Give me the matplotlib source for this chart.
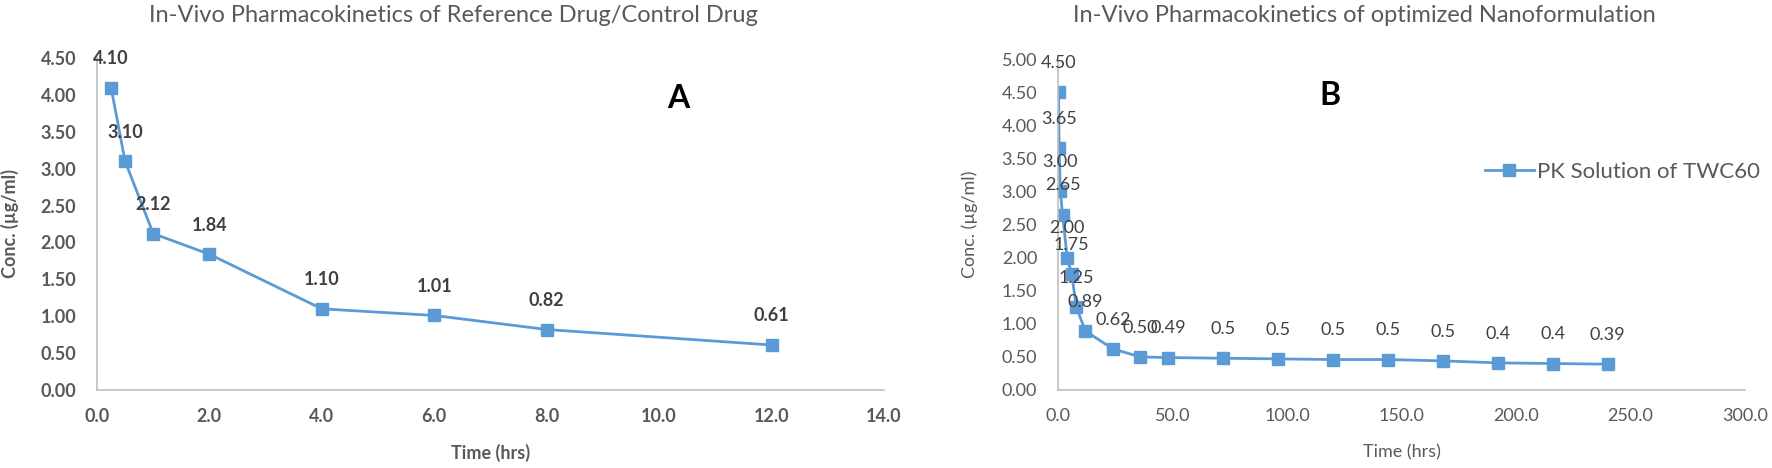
import matplotlib
matplotlib.use("Agg")
import matplotlib.pyplot as plt
from matplotlib import font_manager

fams = {f.name for f in font_manager.fontManager.ttflist}
FONT = [f for f in ["Lato", "DejaVu Sans"] if f in fams]
plt.rcParams['font.family'] = FONT

# Data
time_a = [0.25, 0.5, 1, 2, 4, 6, 8, 12]
conc_a = [4.10, 3.10, 2.12, 1.84, 1.10, 1.01, 0.82, 0.61]
labels_a = ["4.10", "3.10", "2.12", "1.84", "1.10", "1.01", "0.82", "0.61"]

time_b = [0.25, 0.5, 1, 2, 4, 6, 8, 12, 24, 36, 48, 72, 96, 120, 144, 168, 192, 216, 240]
conc_b = [4.50, 3.65, 3.00, 2.65, 2.00, 1.75, 1.25, 0.89, 0.62, 0.50, 0.49, 0.48, 0.47, 0.46, 0.46, 0.44, 0.41, 0.40, 0.39]
labels_b = ["4.50", "3.65", "3.00", "2.65", "2.00", "1.75", "1.25", "0.89", "0.62", "0.50", "0.49",
            "0.5", "0.5", "0.5", "0.5", "0.5", "0.4", "0.4", "0.39"]

xticks_a = [0, 2, 4, 6, 8, 10, 12, 14]
yticks_a = [0, 0.5, 1, 1.5, 2, 2.5, 3, 3.5, 4, 4.5]
xticks_b = [0, 50, 100, 150, 200, 250, 300]
yticks_b = [0, 0.5, 1, 1.5, 2, 2.5, 3, 3.5, 4, 4.5, 5]

BLUE = "#5B9BD5"
TXT = "#595959"
LAB = "#404040"

W, H = 1772, 468
fig = plt.figure(figsize=(W / 100, H / 100), dpi=100)
axA = fig.add_axes([97 / W, 1 - 390 / H, 787 / W, 332 / H])
axB = fig.add_axes([1058 / W, 1 - 390 / H, 687 / W, 331 / H])

def style(ax, bold):
    for s in ["top", "right"]:
        ax.spines[s].set_visible(False)
    for s in ["left", "bottom"]:
        ax.spines[s].set_color("#BFBFBF")
        ax.spines[s].set_linewidth(1.2)
    ax.tick_params(length=0, labelsize=13, colors=TXT)
    ax.tick_params(axis="x", pad=13)
    ax.tick_params(axis="y", pad=15)
    for t in ax.get_xticklabels() + ax.get_yticklabels():
        t.set_fontweight("bold" if bold else "normal")

def pix(x, y):
    return x / W, 1 - y / H

# Panel A
axA.plot(time_a, conc_a, color=BLUE, lw=2, marker="s", ms=8.6)
axA.set_xlim(0, 14)
axA.set_ylim(0, 4.5)
axA.set_xticks(xticks_a)
axA.set_xticklabels([f"{v:.1f}" for v in xticks_a])
axA.set_yticks(yticks_a)
axA.set_yticklabels([f"{v:.2f}" for v in yticks_a])
style(axA, True)
for x, y, s in zip(time_a, conc_a, labels_a):
    axA.annotate(s, (x, y), xytext=(0, 21), textcoords="offset points",
                 ha="center", va="center", fontsize=13, fontweight="bold", color=LAB,
                 annotation_clip=False)
axA.set_xlabel("Time (hrs)", fontsize=13, fontweight="bold", color=TXT)
axA.xaxis.set_label_coords(0.5, -0.163)
axA.set_ylabel("Conc. (µg/ml)", fontsize=13, fontweight="bold", color=TXT)
axA.yaxis.set_label_coords(-0.099, 0.5)
fig.text(*pix(453, 16), "In-Vivo Pharmacokinetics of Reference Drug/Control Drug",
         fontsize=17, color=TXT, ha="center", va="center")
fig.text(*pix(678, 99), "A", fontsize=23, fontweight="bold",
         color="black", ha="center", va="center")

# Panel B
lineB, = axB.plot(time_b, conc_b, color=BLUE, lw=2, marker="s", ms=8.6,
                  label="PK Solution of TWC60")
axB.set_xlim(0, 300)
axB.set_ylim(0, 5)
axB.set_xticks(xticks_b)
axB.set_xticklabels([f"{v:.1f}" for v in xticks_b])
axB.set_yticks(yticks_b)
axB.set_yticklabels([f"{v:.2f}" for v in yticks_b])
style(axB, False)
for x, y, s in zip(time_b, conc_b, labels_b):
    axB.annotate(s, (x, y), xytext=(0, 21), textcoords="offset points",
                 ha="center", va="center", fontsize=13, color=LAB,
                 annotation_clip=False)
axB.set_xlabel("Time (hrs)", fontsize=13, color=TXT)
axB.xaxis.set_label_coords(0.5, -0.163)
axB.set_ylabel("Conc. (µg/ml)", fontsize=13, color=TXT)
axB.yaxis.set_label_coords(-0.116, 0.5)
fig.text(*pix(1364, 16), "In-Vivo Pharmacokinetics of optimized Nanoformulation",
         fontsize=17, color=TXT, ha="center", va="center")
fig.text(*pix(1330, 96), "B", fontsize=23, fontweight="bold",
         color="black", ha="center", va="center")
leg = fig.legend(handles=[lineB], loc="center left", bbox_to_anchor=pix(1485, 172),
                 frameon=False, fontsize=16, handlelength=2.2, handletextpad=0.15,
                 labelcolor=TXT, borderaxespad=0, borderpad=0)

fig.savefig("out.png", dpi=100)
